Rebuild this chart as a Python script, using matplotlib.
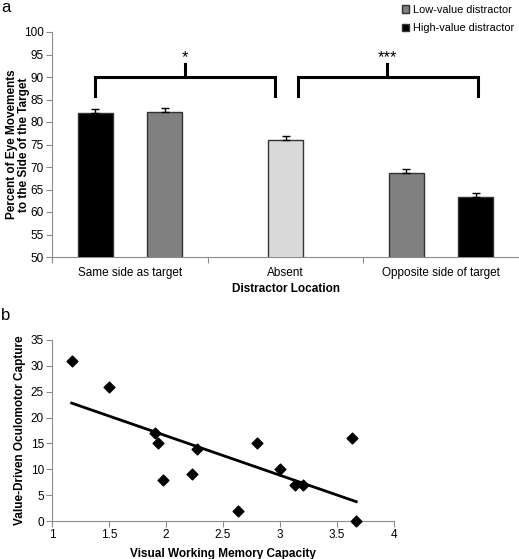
import numpy as np
import matplotlib.pyplot as plt
from matplotlib.patches import Patch
from matplotlib.ticker import FuncFormatter

plt.rcParams['font.family'] = ['Liberation Sans', 'DejaVu Sans']

# panel a data
categories = ['Same side as target', 'Absent', 'Opposite side of target']
high_value = [82.0, None, 63.4]
low_value = [82.2, None, 68.7]
absent_value = 76.0
high_err = [1.0, 0.9]
low_err = [1.0, 0.9]
absent_err = 1.0

# panel b data
vwm_capacity = [1.17, 1.50, 1.90, 1.93, 1.97, 2.23, 2.27, 2.63, 2.80, 3.00, 3.13, 3.20, 3.63, 3.67]
capture = [31, 26, 17, 15, 8, 9, 14, 2, 15, 10, 7, 7, 16, 0]

W, H = 519, 559
fig = plt.figure(figsize=(W / 100, H / 100), dpi=100)

spine_col = '#8c8c8c'
off = 0.223
bw = 0.226

# ---- panel a ----
ax = fig.add_axes([52 / W, 1 - 257 / H, 467 / W, 225 / H])
err_kw = dict(ecolor='black', elinewidth=1, capsize=3, capthick=1)

ax.bar([0 - off, 2 + off], [high_value[0], high_value[2]], width=bw,
       color='black', edgecolor='#333333', linewidth=1,
       yerr=[[0, 0], high_err], error_kw=err_kw, zorder=3)
ax.bar([0 + off, 2 - off], [low_value[0], low_value[2]], width=bw,
       color='#808080', edgecolor='#333333', linewidth=1,
       yerr=[[0, 0], low_err], error_kw=err_kw, zorder=3)
ax.bar([1], [absent_value], width=bw,
       color='#d9d9d9', edgecolor='#333333', linewidth=1,
       yerr=[[0], [absent_err]], error_kw=err_kw, zorder=3)

# significance brackets
for x0, x1, xm, lab in [(-0.223, 0.932, 0.356, '*'), (1.08, 2.235, 1.655, '***')]:
    ax.plot([x0, x0, x1, x1], [85.7, 90, 90, 85.7], color='black', lw=2.2,
            solid_joinstyle='miter', clip_on=False)
    ax.plot([xm, xm], [90, 92.8], color='black', lw=2.2, clip_on=False)
    ax.text(xm, 94.3, lab, ha='center', va='center', fontsize=12)

ax.set_xlim(-0.5, 2.5)
ax.set_ylim(50, 100)
ax.set_yticks(np.arange(50, 101, 5))
ax.set_xticks([-0.5, 0.5, 1.5, 2.5])
ax.set_xticklabels([])
ax.set_xticks([0, 1, 2], minor=True)
ax.set_xticklabels(categories, minor=True)
ax.tick_params(axis='x', which='minor', length=0, pad=7, labelsize=8.5)
ax.tick_params(axis='x', which='major', length=4, color=spine_col)
ax.tick_params(axis='y', length=4, color=spine_col, labelsize=8.5, pad=2)
for s in ['top', 'right']:
    ax.spines[s].set_visible(False)
for s in ['left', 'bottom']:
    ax.spines[s].set_color(spine_col)
ax.set_xlabel('Distractor Location', fontsize=8.5, fontweight='bold', labelpad=3)
ax.set_ylabel('Percent of Eye Movements\nto the Side of the Target', fontsize=8.5,
              fontweight='bold', linespacing=1.0)
ax.yaxis.set_label_coords(-0.047, 0.5)

handles = [Patch(facecolor='#808080', edgecolor='#333333', label='Low-value distractor'),
           Patch(facecolor='black', edgecolor='#333333', label='High-value distractor')]
fig.legend(handles=handles, loc='upper left', bbox_to_anchor=(395 / W, 1 + 2 / H),
           frameon=False, fontsize=7.9, handlelength=0.7, handleheight=0.7,
           handletextpad=0.3, labelspacing=0.8, borderaxespad=0.2)

fig.text(1 / W, 1 - 8 / H, 'a', fontsize=12, va='center', ha='left')

# ---- panel b ----
bx = fig.add_axes([52.3 / W, 1 - 521 / H, 341.5 / W, 181 / H])
bx.scatter(vwm_capacity, capture, marker='D', s=30, color='black', zorder=3, clip_on=False)
k, b = np.polyfit(vwm_capacity, capture, 1)
xs = np.array([min(vwm_capacity), max(vwm_capacity)])
bx.plot(xs, k * xs + b, color='black', lw=2)
bx.set_xlim(1, 4)
bx.set_ylim(0, 35)
bx.set_xticks(np.arange(1, 4.01, 0.5))
bx.set_yticks(np.arange(0, 36, 5))
bx.xaxis.set_major_formatter(FuncFormatter(lambda v, p: f'{v:g}'))
bx.tick_params(length=4, color=spine_col, labelsize=8.5, pad=2)
for s in ['top', 'right']:
    bx.spines[s].set_visible(False)
for s in ['left', 'bottom']:
    bx.spines[s].set_color(spine_col)
bx.set_xlabel('Visual Working Memory Capacity', fontsize=8.5, fontweight='bold', labelpad=5)
bx.set_ylabel('Value-Driven Oculomotor Capture', fontsize=8.5, fontweight='bold')
bx.yaxis.set_label_coords(-0.077, 0.5)

fig.text(1 / W, 1 - 315 / H, 'b', fontsize=12, va='center', ha='left')

fig.savefig('out.png', dpi=100)
